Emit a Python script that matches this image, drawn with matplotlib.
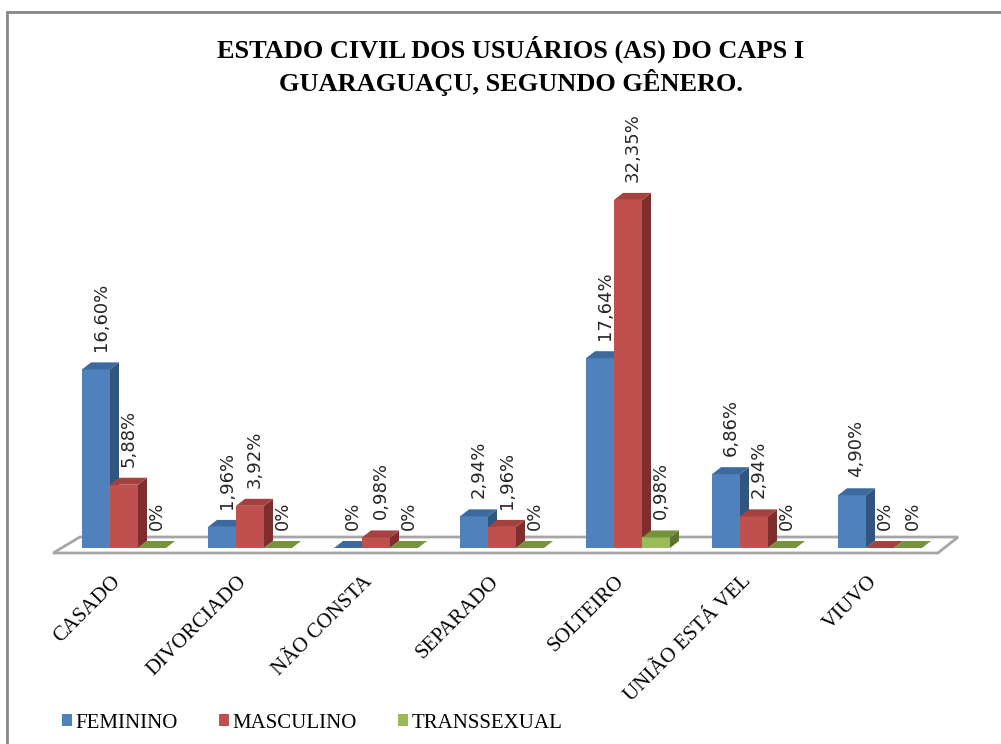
import matplotlib
matplotlib.use("Agg")
import matplotlib.pyplot as plt
from matplotlib.patches import Rectangle, Polygon, Patch

# dados do gráfico
categorias = ["CASADO", "DIVORCIADO", "NÃO CONSTA", "SEPARADO", "SOLTEIRO", "UNIÃO ESTÁ VEL", "VIUVO"]
feminino = [16.60, 1.96, 0.0, 2.94, 17.64, 6.86, 4.90]
masculino = [5.88, 3.92, 0.98, 1.96, 32.35, 2.94, 0.0]
transsexual = [0.0, 0.0, 0.0, 0.0, 0.98, 0.0, 0.0]
series = ["FEMININO", "MASCULINO", "TRANSSEXUAL"]
rotulos = [
    ["16,60%", "1,96%", "0%", "2,94%", "17,64%", "6,86%", "4,90%"],
    ["5,88%", "3,92%", "0,98%", "1,96%", "32,35%", "2,94%", "0%"],
    ["0%", "0%", "0%", "0%", "0,98%", "0%", "0%"],
]

# cores: frente, topo, lateral
cores = [
    ("#4F81BD", "#3C6A9E", "#2F5580"),
    ("#C0504D", "#A5413E", "#7E2F2D"),
    ("#9BBB59", "#76923C", "#5E7530"),
]

W, H = 1001, 744
fig = plt.figure(figsize=(W / 100, H / 100), dpi=100)
ax = fig.add_axes([61 / W, (H - 548) / H, 882 / W, 376.6 / H])
ax.set_xlim(-0.5, 6.5)
ax.set_ylim(0, 35)
ax.axis("off")

# profundidade 3D em pixels -> unidades de dados
px_x = (ax.transData.transform((1, 0))[0] - ax.transData.transform((0, 0))[0])
px_y = (ax.transData.transform((0, 1))[1] - ax.transData.transform((0, 0))[1])
dx = 9 / px_x
dy = 7 / px_y

# piso
x_ini, x_fim = -0.5, 6.5
piso = Polygon([(x_ini - 0.063, -5 / px_y), (x_fim - 0.04, -5 / px_y),
                (x_fim + 0.12, 11 / px_y), (x_ini + 0.15, 11 / px_y)],
               closed=True, facecolor="white", edgecolor="#A6A6A6", lw=2, clip_on=False, zorder=1)
ax.add_patch(piso)

largura = 28 / px_x
valores = [feminino, masculino, transsexual]
for i in range(len(categorias)):
    for s in range(3):
        x0 = i + (s - 1.5) * largura
        h = valores[s][i]
        frente, topo, lado = cores[s]
        z = 2 + i * 3 + s
        ax.add_patch(Rectangle((x0, 0), largura, h, facecolor=frente, edgecolor="none", zorder=z, clip_on=False))
        ax.add_patch(Polygon([(x0 + largura, 0), (x0 + largura + dx, dy), (x0 + largura + dx, h + dy), (x0 + largura, h)],
                             closed=True, facecolor=lado, edgecolor="none", zorder=z, clip_on=False))
        ax.add_patch(Polygon([(x0, h), (x0 + largura, h), (x0 + largura + dx, h + dy), (x0 + dx, h + dy)],
                             closed=True, facecolor=topo, edgecolor="none", zorder=z, clip_on=False))
        ax.annotate(rotulos[s][i], (x0 + largura / 2 + dx / 2, h + dy), xytext=(0, 8), textcoords="offset points",
                    rotation=90, ha="center", va="bottom", fontsize=13, family="DejaVu Sans",
                    color="#262626", zorder=50, annotation_clip=False)
    ax.text(i + 0.005, -24 / px_y, categorias[i], rotation=45, ha="right", va="top",
            fontsize=15, family="Liberation Serif", color="black")

fig.text(511 / W, (H - 66) / H, "ESTADO CIVIL DOS USUÁRIOS (AS) DO CAPS I\nGUARAGUAÇU, SEGUNDO GÊNERO.",
         ha="center", va="center", fontsize=19, fontweight="bold", family="Liberation Serif", linespacing=1.25)

handles = [Patch(facecolor=c[0], edgecolor="none") for c in cores]
fig.legend(handles, series, loc="center left", bbox_to_anchor=(62 / W, (H - 723) / H), ncol=3, frameon=False,
           borderpad=0, borderaxespad=0, handlelength=0.48, handleheight=0.5, handletextpad=0.15,
           columnspacing=2.0, prop={"family": "Liberation Serif", "size": 15})

# moldura
fig.patches.append(Rectangle((7 / W, -0.05), 1.2, (H - 12) / H + 0.05, transform=fig.transFigure,
                             facecolor="none", edgecolor="#878787", lw=2))

fig.savefig("out.png", dpi=100)
